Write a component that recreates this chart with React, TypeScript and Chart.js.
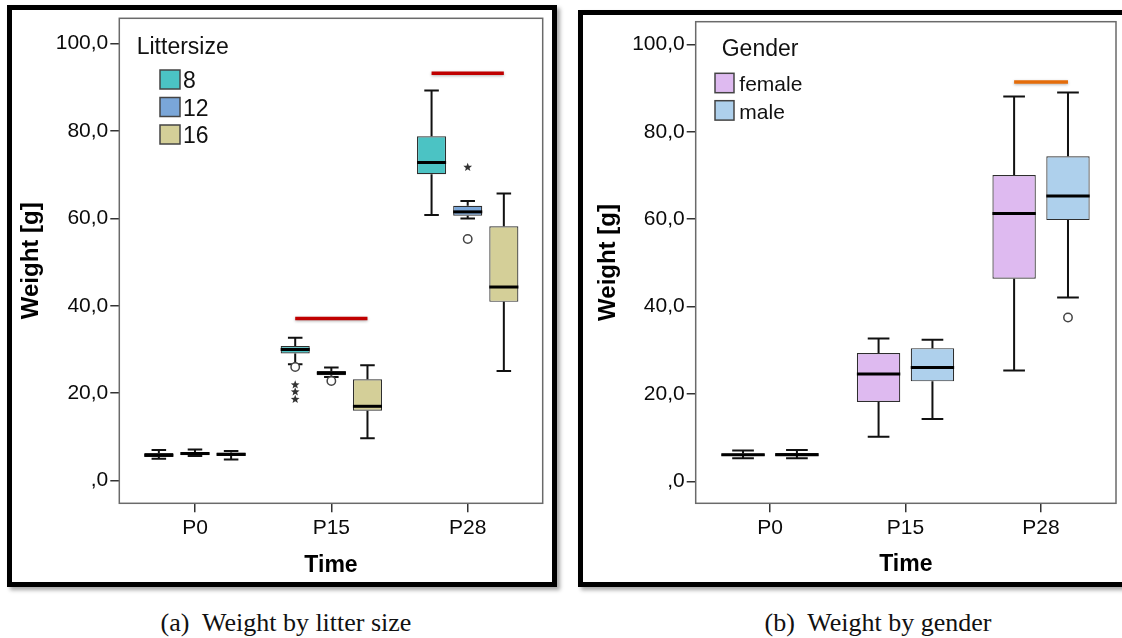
import React, { useEffect, useRef } from 'react';
import { Chart, registerables } from 'chart.js';

Chart.register(...registerables);

const FONT = '"Liberation Sans", Arial, sans-serif';

// ---------- shared ----------
const timeLabels = ['P0', 'P15', 'P28'];
const yTickValues = [0, 20, 40, 60, 80, 100];

// ---------- (a) litter size ----------  each row = one litter size, columns = P0, P15, P28
const litterLabels = ['8', '12', '16'];
const litterColors = ['#4BC3C4', '#7AA6D8', '#D4CF98'];
const litterMin = [
  [5.0, 26.6, 60.8],
  [5.6, 23.7, 60.0],
  [4.85, 9.7, 25.1],
];
const litterQ1 = [
  [5.4, 29.1, 70.1],
  [5.8, 24.1, 60.6],
  [5.6, 16.0, 40.9],
];
const litterMedian = [
  [5.8, 30.0, 72.8],
  [6.2, 24.6, 61.5],
  [6.0, 17.0, 44.3],
];
const litterQ3 = [
  [6.3, 30.8, 78.8],
  [6.5, 25.1, 62.9],
  [6.4, 23.2, 58.2],
];
const litterMax = [
  [7.0, 32.7, 89.3],
  [7.1, 25.9, 64.0],
  [6.75, 26.4, 65.7],
];
const litterOutliers = [
  { series: 0, time: 1, value: 26.0, mark: 'circle' },
  { series: 0, time: 1, value: 21.9, mark: 'star' },
  { series: 0, time: 1, value: 20.3, mark: 'star' },
  { series: 0, time: 1, value: 18.6, mark: 'star' },
  { series: 1, time: 1, value: 22.8, mark: 'circle' },
  { series: 1, time: 2, value: 71.7, mark: 'star' },
  { series: 1, time: 2, value: 55.3, mark: 'circle' },
];
const litterSig = [
  { time: 1, from: 0, to: 2, value: 37.1 },
  { time: 2, from: 0, to: 2, value: 93.2 },
];

// ---------- (b) gender ----------
const genderLabels = ['female', 'male'];
const genderColors = ['#DEBAF0', '#AED0EC'];
const genderMin = [
  [5.3, 10.2, 25.4],
  [5.3, 14.3, 42.1],
];
const genderQ1 = [
  [5.8, 18.2, 46.4],
  [5.8, 22.9, 59.8],
];
const genderMedian = [
  [6.1, 24.6, 61.3],
  [6.1, 26.1, 65.3],
];
const genderQ3 = [
  [6.4, 29.4, 70.1],
  [6.5, 30.5, 74.4],
];
const genderMax = [
  [7.1, 32.7, 88.1],
  [7.2, 32.4, 89.0],
];
const genderOutliers = [{ series: 1, time: 2, value: 37.5, mark: 'circle' }];
const genderSig = [{ time: 2, from: 0, to: 1, value: 91.4 }];

type Outlier = { series: number; time: number; value: number; mark: string };
type Sig = { time: number; from: number; to: number; value: number };

interface PanelProps {
  left: number;
  top: number;
  width: number;
  height: number;
  labels: string[];
  colors: string[];
  mins: number[][];
  q1s: number[][];
  medians: number[][];
  q3s: number[][];
  maxs: number[][];
  outliers: Outlier[];
  sig: Sig[];
  sigColor: string;
  legendTitle: string;
  legend: { titleX: number; titleY: number; boxX: number; boxTop: number; boxW: number; boxH: number; step: number; textX: number; textDy: number; itemSize: number };
  xRange: [number, number];
  yRange: [number, number];
  area: { left: number; top: number; right: number; bottom: number };
  yTitlePad: number;
  xTitlePad: number;
}

function drawStar(ctx: CanvasRenderingContext2D, x: number, y: number, r: number) {
  ctx.beginPath();
  for (let i = 0; i < 10; i++) {
    const ang = -Math.PI / 2 + (i * Math.PI) / 5;
    const rr = i % 2 === 0 ? r : r * 0.42;
    const px = x + rr * Math.cos(ang);
    const py = y + rr * Math.sin(ang);
    if (i === 0) ctx.moveTo(px, py);
    else ctx.lineTo(px, py);
  }
  ctx.closePath();
  ctx.fill();
}

function BoxPanel(p: PanelProps) {
  const ref = useRef<HTMLCanvasElement | null>(null);

  useEffect(() => {
    const canvas = ref.current;
    if (!canvas) return;

    const datasets = p.labels.map((lab, s) => ({
      label: lab,
      data: timeLabels.map((_, t) => ({ x: t, y: [p.q1s[s][t], p.q3s[s][t]] })),
      backgroundColor: p.colors[s],
      borderColor: '#2e2e2e',
      borderWidth: 1.2,
      borderSkipped: false as const,
      categoryPercentage: 0.795,
      barPercentage: 0.805,
    }));

    const framePlugin = {
      id: 'plotFrame',
      beforeDatasetsDraw(chart: any) {
        const { ctx, chartArea } = chart;
        ctx.save();
        ctx.strokeStyle = '#6a6a6a';
        ctx.lineWidth = 1.5;
        ctx.strokeRect(chartArea.left, chartArea.top, chartArea.right - chartArea.left, chartArea.bottom - chartArea.top);
        ctx.restore();
      },
    };

    const boxPlugin = {
      id: 'boxParts',
      afterDatasetsDraw(chart: any) {
        const ctx: CanvasRenderingContext2D = chart.ctx;
        const ys = chart.scales.y;
        ctx.save();
        p.labels.forEach((_, s) => {
          const meta = chart.getDatasetMeta(s);
          timeLabels.forEach((__, t) => {
            const el = meta.data[t];
            const cx = el.x;
            const w = el.width;
            const yMin = ys.getPixelForValue(p.mins[s][t]);
            const yQ1 = ys.getPixelForValue(p.q1s[s][t]);
            const yQ3 = ys.getPixelForValue(p.q3s[s][t]);
            const yMax = ys.getPixelForValue(p.maxs[s][t]);
            const yMed = ys.getPixelForValue(p.medians[s][t]);
            ctx.strokeStyle = '#111';
            ctx.lineWidth = 2;
            ctx.beginPath();
            ctx.moveTo(cx, yQ3);
            ctx.lineTo(cx, yMax);
            ctx.moveTo(cx, yQ1);
            ctx.lineTo(cx, yMin);
            ctx.moveTo(cx - w / 4, yMax);
            ctx.lineTo(cx + w / 4, yMax);
            ctx.moveTo(cx - w / 4, yMin);
            ctx.lineTo(cx + w / 4, yMin);
            ctx.stroke();
            ctx.lineWidth = 3;
            ctx.strokeStyle = '#000';
            ctx.beginPath();
            ctx.moveTo(cx - w / 2, yMed);
            ctx.lineTo(cx + w / 2, yMed);
            ctx.stroke();
          });
        });
        // outliers
        p.outliers.forEach((o) => {
          const el = chart.getDatasetMeta(o.series).data[o.time];
          const x = el.x;
          const y = ys.getPixelForValue(o.value);
          if (o.mark === 'circle') {
            ctx.beginPath();
            ctx.arc(x, y, 4.2, 0, Math.PI * 2);
            ctx.fillStyle = '#fff';
            ctx.fill();
            ctx.lineWidth = 1.5;
            ctx.strokeStyle = '#444';
            ctx.stroke();
          } else {
            ctx.fillStyle = '#333';
            drawStar(ctx, x, y, 4.6);
          }
        });
        // significance bars
        p.sig.forEach((g) => {
          const a = chart.getDatasetMeta(g.from).data[g.time];
          const b = chart.getDatasetMeta(g.to).data[g.time];
          const y = ys.getPixelForValue(g.value);
          ctx.save();
          ctx.shadowColor = 'rgba(0,0,0,0.3)';
          ctx.shadowBlur = 3;
          ctx.shadowOffsetY = 1;
          ctx.strokeStyle = p.sigColor;
          ctx.lineWidth = 3.5;
          ctx.beginPath();
          ctx.moveTo(a.x, y);
          ctx.lineTo(b.x, y);
          ctx.stroke();
          ctx.restore();
        });
        ctx.restore();
      },
    };

    const legendPlugin = {
      id: 'insideLegend',
      afterDatasetsDraw(chart: any) {
        const ctx: CanvasRenderingContext2D = chart.ctx;
        const L = p.legend;
        ctx.save();
        ctx.textAlign = 'left';
        ctx.textBaseline = 'middle';
        ctx.fillStyle = '#111';
        ctx.font = `23px ${FONT}`;
        ctx.fillText(p.legendTitle, L.titleX, L.titleY);
        chart.data.datasets.forEach((ds: any, i: number) => {
          const y = L.boxTop + i * L.step;
          ctx.fillStyle = ds.backgroundColor;
          ctx.fillRect(L.boxX, y, L.boxW, L.boxH);
          ctx.strokeStyle = '#444';
          ctx.lineWidth = 1.5;
          ctx.strokeRect(L.boxX, y, L.boxW, L.boxH);
          ctx.fillStyle = '#111';
          ctx.font = `${L.itemSize}px ${FONT}`;
          ctx.fillText(ds.label, L.textX, y + L.boxH / 2 + L.textDy);
        });
        ctx.restore();
      },
    };

    const gridOpts = {
      display: true,
      drawOnChartArea: false,
      drawTicks: true,
      tickLength: 9,
      color: '#333',
      lineWidth: 1.5,
      offset: false,
    };

    const chart = new Chart(canvas, {
      type: 'bar',
      data: { datasets } as any,
      options: {
        animation: false,
        responsive: false,
        devicePixelRatio: 1,
        layout: {
          padding: { left: 0, top: p.area.top, right: p.width - p.area.right, bottom: 0 },
        },
        plugins: {
          legend: { display: false },
          tooltip: { enabled: false },
        },
        scales: {
          x: {
            type: 'linear',
            min: p.xRange[0],
            max: p.xRange[1],
            offset: false,
            afterBuildTicks: (s: any) => {
              s.ticks = timeLabels.map((_, i) => ({ value: i }));
            },
            afterFit: (s: any) => {
              s.height = p.height - p.area.bottom;
            },
            ticks: {
              callback: (v: any) => timeLabels[v] ?? '',
              font: { family: FONT, size: 21 },
              color: '#0a0a0a',
              padding: 3,
              maxRotation: 0,
              autoSkip: false,
            },
            grid: gridOpts,
            border: { display: false },
            title: {
              display: true,
              text: 'Time',
              color: '#000',
              font: { family: FONT, size: 23, weight: 'bold' },
              padding: { top: 0, bottom: p.xTitlePad },
            },
          },
          y: {
            type: 'linear',
            min: p.yRange[0],
            max: p.yRange[1],
            afterBuildTicks: (s: any) => {
              s.ticks = yTickValues.map((v) => ({ value: v }));
            },
            afterFit: (s: any) => {
              s.width = p.area.left;
            },
            ticks: {
              callback: (v: any) => (v === 0 ? ',0' : Number(v).toFixed(1).replace('.', ',')),
              font: { family: FONT, size: 21 },
              color: '#0a0a0a',
              padding: 2,
            },
            grid: gridOpts,
            border: { display: false },
            title: {
              display: true,
              text: 'Weight [g]',
              color: '#000',
              font: { family: FONT, size: 24, weight: 'bold' },
              padding: { top: p.yTitlePad, bottom: 0 },
            },
          },
        },
      } as any,
      plugins: [framePlugin, boxPlugin, legendPlugin],
    });

    return () => chart.destroy();
  }, []);

  return (
    <canvas
      ref={ref}
      width={p.width}
      height={p.height}
      style={{ position: 'absolute', left: p.left, top: p.top, width: p.width, height: p.height }}
    />
  );
}

const captionStyle: React.CSSProperties = {
  position: 'absolute',
  top: 608,
  textAlign: 'center',
  fontFamily: '"Liberation Serif", "Times New Roman", serif',
  fontSize: 26,
  lineHeight: '30px',
  whiteSpace: 'pre',
  color: '#111',
};

export default function App() {
  return (
    <div
      style={{
        position: 'absolute',
        left: 0,
        top: 0,
        width: 1122,
        height: 638,
        overflow: 'hidden',
        background: '#fff',
      }}
    >
      <div
        style={{
          position: 'absolute',
          left: 7,
          top: 5,
          width: 550,
          height: 582,
          border: '5px solid #000',
          boxSizing: 'border-box',
          boxShadow: '3px 3px 4px rgba(0,0,0,0.35)',
        }}
      />
      <div
        style={{
          position: 'absolute',
          left: 578,
          top: 10,
          width: 580,
          height: 577,
          border: '5px solid #000',
          boxSizing: 'border-box',
          boxShadow: '3px 3px 4px rgba(0,0,0,0.35)',
        }}
      />
      <BoxPanel
        left={0}
        top={0}
        width={560}
        height={600}
        labels={litterLabels}
        colors={litterColors}
        mins={litterMin}
        q1s={litterQ1}
        medians={litterMedian}
        q3s={litterQ3}
        maxs={litterMax}
        outliers={litterOutliers}
        sig={litterSig}
        sigColor="#C00000"
        legendTitle="Littersize"
        legend={{ titleX: 136.7, titleY: 47.5, boxX: 160, boxTop: 70, boxW: 20, boxH: 19, step: 27.5, textX: 183, textDy: 2.5, itemSize: 23 }}
        xRange={[-0.555, 2.55]}
        yRange={[-5.2, 105.8]}
        area={{ left: 119.3, top: 18.3, right: 542.7, bottom: 503.3 }}
        yTitlePad={16.6}
        xTitlePad={20.2}
      />
      <BoxPanel
        left={575}
        top={0}
        width={547}
        height={600}
        labels={genderLabels}
        colors={genderColors}
        mins={genderMin}
        q1s={genderQ1}
        medians={genderMedian}
        q3s={genderQ3}
        maxs={genderMax}
        outliers={genderOutliers}
        sig={genderSig}
        sigColor="#E46C0A"
        legendTitle="Gender"
        legend={{ titleX: 146.7, titleY: 50, boxX: 140, boxTop: 73.3, boxW: 19, boxH: 19.4, step: 27.4, textX: 164.3, textDy: 2.5, itemSize: 21 }}
        xRange={[-0.548, 2.553]}
        yRange={[-5.0, 105.2]}
        area={{ left: 120.7, top: 21.7, right: 541, bottom: 503.3 }}
        yTitlePad={18.6}
        xTitlePad={21.2}
      />
      <div style={{ ...captionStyle, left: 0, width: 572 }}>{'(a)  Weight by litter size'}</div>
      <div style={{ ...captionStyle, left: 578, width: 600 }}>{'(b)  Weight by gender'}</div>
    </div>
  );
}
